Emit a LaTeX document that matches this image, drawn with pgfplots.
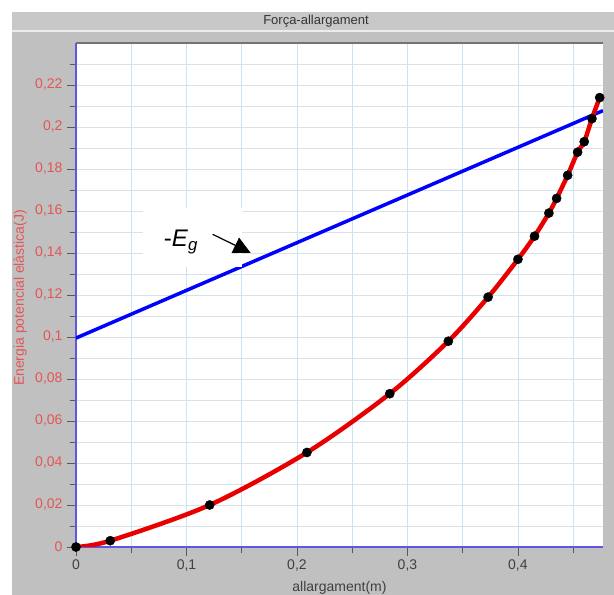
\documentclass[border=0pt]{standalone}
\usepackage{fontspec}
\setmainfont{Liberation Sans}
\usepackage{pgfplots}
\pgfplotsset{compat=1.18}
\usepackage{pgfplotstable}
\usetikzlibrary{arrows.meta}

\definecolor{panel}{RGB}{192,192,192}
\definecolor{titlebar}{RGB}{200,200,200}
\definecolor{gridv}{RGB}{200,228,245}
\definecolor{gridh}{RGB}{214,226,236}
\definecolor{spine}{RGB}{95,85,225}
\definecolor{ylab}{RGB}{228,85,85}
\definecolor{curve}{RGB}{232,0,0}

\pgfplotstableread{
x y
0 0
0.031 0.003
0.121 0.020
0.209 0.045
0.284 0.073
0.337 0.098
0.373 0.119
0.400 0.137
0.415 0.148
0.428 0.159
0.435 0.166
0.445 0.177
0.454 0.188
0.460 0.193
0.467 0.204
0.474 0.214
}\energia

\begin{document}
\begin{tikzpicture}[x=1pt,y=1pt]
\clip (0,0) rectangle (614,595);
\fill[white] (0,0) rectangle (614,595);
\fill[panel] (12,0) rectangle (614,583);
\fill[titlebar] (12,565) rectangle (614,583);
\draw[white!70!panel, line width=1.5pt] (12,564) -- (614,564);
\node[font=\fontsize{13}{15}\selectfont, text=black!80] at (316,574) {Força-allargament};

\begin{axis}[
  at={(76pt,48pt)}, anchor=south west,
  scale only axis, width=527pt, height=504pt,
  xmin=0, xmax=0.477, ymin=0, ymax=0.24,
  axis background/.style={fill=white},
  axis x line*=bottom, axis y line*=left,
  x axis line style={spine, line width=2pt, -},
  y axis line style={spine, line width=2pt, -},
  xtick={0,0.1,0.2,0.3,0.4},
  xticklabels={0,{0,1},{0,2},{0,3},{0,4}},
  minor xtick={0.05,0.15,0.25,0.35,0.45},
  ytick={0,0.02,0.04,0.06,0.08,0.1,0.12,0.14,0.16,0.18,0.2,0.22},
  yticklabels={0,{0,02},{0,04},{0,06},{0,08},{0,1},{0,12},{0,14},{0,16},{0,18},{0,2},{0,22}},
  minor ytick={0.01,0.03,0.05,0.07,0.09,0.11,0.13,0.15,0.17,0.19,0.21,0.23},
  grid=both,
  x grid style={gridv, line width=0.8pt},
  y grid style={gridh, line width=0.8pt},
  tick align=outside,
  major tick length=9pt, minor tick length=6pt,
  tick style={black!65, line width=0.8pt},
  yticklabel style={text=ylab, font=\fontsize{14}{16}\selectfont, xshift=-1pt},
  xticklabel style={text=black!75, font=\fontsize{14}{16}\selectfont},
  xlabel={allargament(m)},
  ylabel={Energia potencial elàstica(J)},
  xlabel style={font=\fontsize{14}{16}\selectfont, text=black!75, at={(axis description cs:0.5,-0.081)}, anchor=center},
  ylabel style={font=\fontsize{14}{16}\selectfont, text=ylab, at={(axis description cs:-0.106,0.494)}, anchor=center},
]
\addplot[blue, line width=3.5pt] coordinates {(0,0.0995) (0.477,0.2078)};
\addplot[curve, line width=4.5pt, smooth, tension=0.5] table[x=x,y=y] {\energia};
\addplot[only marks, mark=*, mark size=4.6pt, black] table[x=x,y=y] {\energia};
\draw[black!55, line width=1.5pt] (rel axis cs:0,1) -- (rel axis cs:1,1);
\fill[white] (axis cs:0.0606,0.1333) rectangle (axis cs:0.150,0.1614);
\node[font=\fontsize{24}{28}\selectfont, anchor=base] at (axis cs:0.095,0.1429) {-\textit{E}\textsubscript{\textit{g}}};
\draw[line width=1.2pt, -{Triangle[length=17pt,width=17pt]}] (axis cs:0.1237,0.1489) -- (axis cs:0.158,0.1401);
\end{axis}
\end{tikzpicture}
\end{document}
